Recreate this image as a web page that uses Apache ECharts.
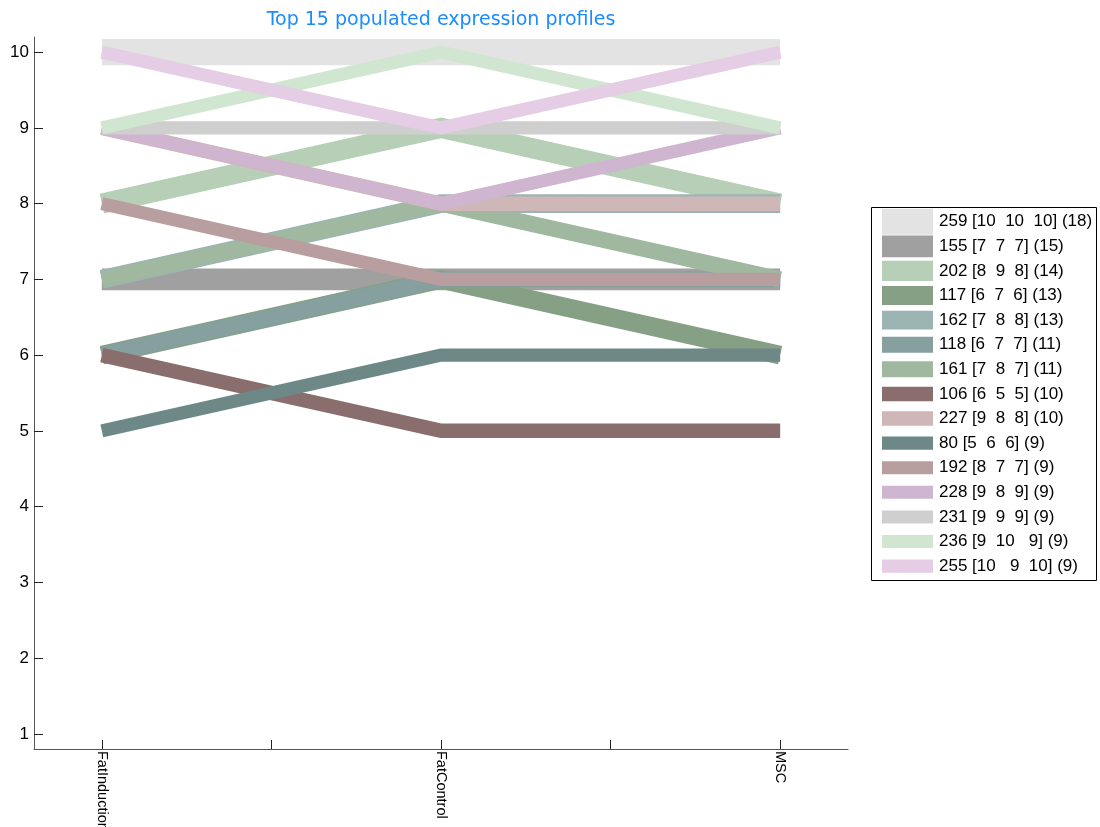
<!DOCTYPE html>
<html>
<head>
<meta charset="utf-8">
<script src="https://cdn.jsdelivr.net/npm/echarts@6/dist/echarts.min.js"></script>
<style>
  html, body { margin: 0; padding: 0; background: #fff; overflow: hidden; }
  #chart { width: 1100px; height: 827px; }
</style>
</head>
<body>
<div id="chart"></div>
<script>
// Conditions along the x axis (positioned at 1, 2, 3)
const conditions = ['FatInduction', 'FatControl', 'MSC'];
const conditionPos = [1, 2, 3];

// Expression profiles: id, level per condition, number of members
const profileIds = [259, 155, 202, 117, 162, 118, 161, 106, 227, 80, 192, 228, 231, 236, 255];
const profileLevels = [
  [10, 10, 10],
  [7, 7, 7],
  [8, 9, 8],
  [6, 7, 6],
  [7, 8, 8],
  [6, 7, 7],
  [7, 8, 7],
  [6, 5, 5],
  [9, 8, 8],
  [5, 6, 6],
  [8, 7, 7],
  [9, 8, 9],
  [9, 9, 9],
  [9, 10, 9],
  [10, 9, 10]
];
const profileCounts = [18, 15, 14, 13, 13, 11, 11, 10, 10, 9, 9, 9, 9, 9, 9];
const profileLabels = [
  '259 [10  10  10] (18)',
  '155 [7  7  7] (15)',
  '202 [8  9  8] (14)',
  '117 [6  7  6] (13)',
  '162 [7  8  8] (13)',
  '118 [6  7  7] (11)',
  '161 [7  8  7] (11)',
  '106 [6  5  5] (10)',
  '227 [9  8  8] (10)',
  '80 [5  6  6] (9)',
  '192 [8  7  7] (9)',
  '228 [9  8  9] (9)',
  '231 [9  9  9] (9)',
  '236 [9  10   9] (9)',
  '255 [10   9  10] (9)'
];
const profileColors = [
  '#e3e3e3', '#a0a0a0', '#b7cfb7', '#86a086', '#9cb4b4',
  '#86a0a0', '#a0b8a0', '#8a6e6e', '#cfb7b7', '#6e8888',
  '#b89e9e', '#cfb5cf', '#cfcfcf', '#d0e6d0', '#e5cde5'
];
const yTicks = [1, 2, 3, 4, 5, 6, 7, 8, 9, 10];
const xTicks = [1, 1.5, 2, 2.5, 3];

// Line thickness scales with the profile size
const widthPerMember = 1.45;

const chart = echarts.init(document.getElementById('chart'), null, { renderer: 'canvas' });

const series = profileIds.map((id, i) => ({
  name: profileLabels[i],
  type: 'line',
  data: profileLevels[i].map((v, k) => [conditionPos[k], v]),
  showSymbol: false,
  symbol: 'none',
  silent: true,
  animation: false,
  itemStyle: { color: profileColors[i] },
  lineStyle: {
    color: profileColors[i],
    width: profileCounts[i] * widthPerMember,
    cap: 'butt',
    join: 'miter',
    opacity: 1
  },
  emphasis: { disabled: true }
}));

// One legend block per profile so each swatch keeps its own thickness
const legendFirstRow = 221.7;
const legendRowStep = 24.6;
const legendTextH = 19;
const legends = profileLabels.map((label, i) => {
  const h = profileCounts[i] * widthPerMember;
  const boxH = Math.max(h, legendTextH);
  return {
    data: [{ name: label, icon: 'rect', itemStyle: { color: profileColors[i], borderWidth: 0 } }],
    left: 882,
    top: legendFirstRow + i * legendRowStep - boxH / 2,
    padding: 0,
    itemWidth: 51,
    itemHeight: h,
    itemGap: 0,
    selectedMode: false,
    textStyle: {
      fontFamily: 'Liberation Sans, Arial, sans-serif',
      fontSize: 17,
      lineHeight: legendTextH,
      color: '#000',
      padding: [0, 0, 0, 1]
    }
  };
});

const option = {
  backgroundColor: '#ffffff',
  animation: false,
  title: {
    text: 'Top 15 populated expression profiles',
    left: 436,
    textAlign: 'center',
    top: 6,
    textStyle: {
      fontFamily: 'DejaVu Sans, Verdana, sans-serif',
      fontSize: 19,
      fontWeight: 'normal',
      color: '#1a8cff'
    }
  },
  legend: legends,
  grid: {
    left: 34, width: 814, top: 37, height: 712,
    containLabel: false,
    outerBoundsMode: 'none'
  },
  xAxis: {
    type: 'value',
    min: 0.8,
    max: 3.2,
    splitLine: { show: false },
    axisLine: { show: true, onZero: false, lineStyle: { color: '#555', width: 1 } },
    axisTick: { show: true, inside: true, length: 9, customValues: xTicks, lineStyle: { color: '#222', width: 1 } },
    axisLabel: {
      customValues: conditionPos,
      formatter: v => conditions[conditionPos.indexOf(Math.round(v))] || '',
      rotate: -90,
      margin: 2,
      fontFamily: 'Liberation Sans, Arial, sans-serif',
      fontSize: 14.5,
      color: '#000'
    }
  },
  yAxis: {
    type: 'value',
    min: 0.8,
    max: 10.2,
    splitLine: { show: false },
    axisLine: { show: true, onZero: false, lineStyle: { color: '#555', width: 1 } },
    axisTick: { show: true, inside: true, length: 9, customValues: yTicks, lineStyle: { color: '#222', width: 1 } },
    axisLabel: {
      customValues: yTicks,
      margin: 5,
      fontFamily: 'Liberation Sans, Arial, sans-serif',
      fontSize: 17,
      color: '#000'
    }
  },
  graphic: [{
    type: 'rect',
    shape: { x: 871.5, y: 207.5, width: 225, height: 373 },
    style: { fill: null, stroke: '#000', lineWidth: 1 },
    silent: true,
    z: 100
  }],
  series: series
};

chart.setOption(option);
</script>
</body>
</html>
